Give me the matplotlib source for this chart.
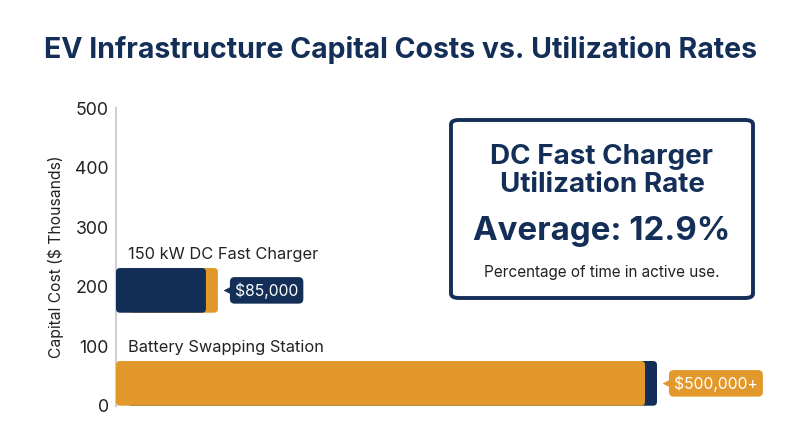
import matplotlib
matplotlib.use("Agg")
import matplotlib.pyplot as plt
import matplotlib.transforms as mtransforms
from matplotlib.patches import FancyBboxPatch

plt.rcParams['font.family'] = ['Inter', 'DejaVu Sans']

# ---- data ----
categories = ["150 kW DC Fast Charger", "Battery Swapping Station"]
costs_k = [85, 500]                      # capital cost, $ thousands
positions = [194, 38]                   # vertical placement on the cost axis
value_labels = ["$85,000", "$500,000+"]
yticks = [0, 100, 200, 300, 400, 500]
title = "EV Infrastructure Capital Costs vs. Utilization Rates"
ylabel = "Capital Cost ($ Thousands)"
box_title = "DC Fast Charger\nUtilization Rate"
box_value = "Average: 12.9%"
box_note = "Percentage of time in active use."

NAVY = "#132e57"
ORANGE = "#e2982b"
front_colors = [NAVY, ORANGE]
back_colors = [ORANGE, NAVY]

W, H = 800, 447
fig = plt.figure(figsize=(W / 100, H / 100), dpi=100)
ax_left, ax_right, ax_bot, ax_top = 116, 770, 406, 108
ax = fig.add_axes([ax_left / W, (H - ax_bot) / H, (ax_right - ax_left) / W, (ax_bot - ax_top) / H])
px_per_unit_x = (645 - ax_left) / 500
ax.set_xlim(0, (ax_right - ax_left) / px_per_unit_x)
ax.set_ylim(0, 500)

for s in ["top", "right", "bottom"]:
    ax.spines[s].set_visible(False)
ax.spines["left"].set_color("#d0d0d0")
ax.spines["left"].set_linewidth(1.5)
ax.set_xticks([])
ax.set_yticks(yticks)
ax.tick_params(axis="y", length=0, pad=5, labelsize=12.8, labelcolor="#222222")
ax.set_ylabel(ylabel, fontsize=11.3, color="#222222", labelpad=8)

bar_h = 75
shadow = mtransforms.offset_copy(ax.transData, fig=fig, x=12, y=0, units="dots")
px_per_unit_y = (ax_bot - ax_top) / 500

def rounded(rect, color, transform, zorder):
    x, y = rect.get_x(), rect.get_y()
    w, h = rect.get_width(), rect.get_height()
    rect.remove()
    r = 4 / px_per_unit_x
    p = FancyBboxPatch((x, y), w, h,
                       boxstyle=f"round,pad=0,rounding_size={r}",
                       mutation_aspect=px_per_unit_x / px_per_unit_y,
                       fc=color, ec="none", transform=transform, zorder=zorder,
                       clip_on=False)
    ax.add_patch(p)

back = ax.barh(positions, costs_k, height=bar_h, color=back_colors, transform=shadow)
front = ax.barh(positions, costs_k, height=bar_h, color=front_colors)
for r, c in zip(back, back_colors):
    rounded(r, c, shadow, 2)
for r, c in zip(front, front_colors):
    rounded(r, c, ax.transData, 3)

for cat, pos in zip(categories, positions):
    ax.annotate(cat, xy=(0, pos + bar_h / 2), xytext=(12, 6), textcoords="offset pixels",
                ha="left", va="bottom", fontsize=11.8, color="#222222")

for val, pos, lab, col in zip(costs_k, positions, value_labels, front_colors):
    ax.annotate(lab, xy=(val, pos), xytext=(29, 0), textcoords="offset pixels",
                ha="left", va="center", fontsize=11.3, color="white",
                bbox=dict(boxstyle="round,pad=0.32,rounding_size=0.3", fc=col, ec="none"),
                zorder=5)
    ptr = mtransforms.offset_copy(ax.transData, fig=fig, x=22, y=0, units="dots")
    ax.plot([val], [pos], marker="<", ms=7, color=col, mec="none",
            transform=ptr, clip_on=False, zorder=6)

fig.text(0.5, 1 - 50 / H, title, ha="center", va="center", fontsize=20.5,
         fontweight="bold", color=NAVY)

# info box
bx0, by0, bx1, by1 = 451, 120, 753, 298
box = FancyBboxPatch((bx0 / W, 1 - by1 / H), (bx1 - bx0) / W, (by1 - by0) / H,
                     boxstyle="round,pad=0,rounding_size=0.01",
                     transform=fig.transFigure, fc="white", ec=NAVY, lw=2.8, zorder=10)
fig.patches.append(box)
cx = (bx0 + bx1) / 2 / W
fig.text(cx, 1 - 171 / H, box_title, ha="center", va="center", fontsize=20,
         fontweight="bold", color=NAVY, linespacing=1.15, zorder=11)
fig.text(cx, 1 - 232 / H, box_value, ha="center", va="center", fontsize=23.8,
         fontweight="bold", color=NAVY, zorder=11)
fig.text(cx, 1 - 272 / H, box_note, ha="center", va="center", fontsize=11,
         color="#222222", zorder=11)

fig.savefig("out.png", dpi=100)
